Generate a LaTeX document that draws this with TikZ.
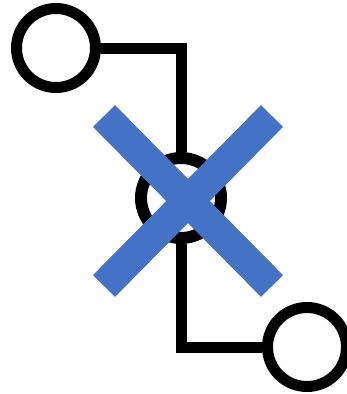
\documentclass[tikz,border=0pt]{standalone}
\usepackage{tikz}
\usetikzlibrary{positioning}
\definecolor{ink}{RGB}{0,0,0}
\definecolor{cross}{RGB}{68,114,196}
\tikzset{
  port/.style={draw=ink,circle,line width=11pt,minimum size=79pt,inner sep=0pt,fill=white},
  wire/.style={draw=ink,line width=11pt,line join=miter},
  strike/.style={draw=cross,line width=31pt,line cap=butt},
}
\begin{document}
\begin{tikzpicture}[x=1pt,y=-1pt]
  \useasboundingbox (0,0) rectangle (346,394);
  \coordinate (c1) at (181,48);
  \coordinate (c2) at (181,347);
  \node[port] (src) at (56,48) {};
  \node[port,minimum size=80pt,line width=12pt] (hub) at (181,198) {};
  \node[port] (dst) at (307,347) {};
  \draw[wire] (src.east) -- (c1) -- (hub.north);
  \draw[wire] (hub.south) -- (c2) -- (dst.west);
  % the cross
  \draw[strike] (104,116) -- (272,286);
  \draw[strike] (272,116) -- (104,286);
\end{tikzpicture}
\end{document}
